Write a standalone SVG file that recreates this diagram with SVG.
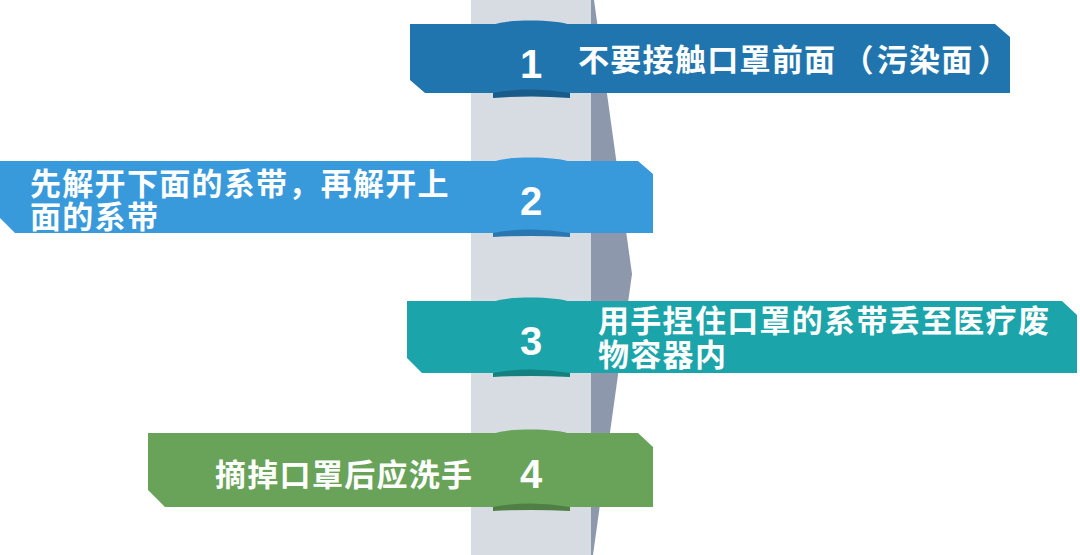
<svg xmlns="http://www.w3.org/2000/svg" width="1080" height="555" viewBox="0 0 1080 555">
<style>
.txt{font-family:"Noto Sans CJK SC","Noto Sans",sans-serif;font-weight:bold;font-size:31px;fill:#ffffff;letter-spacing:1.3px}
.num{font-family:"Liberation Sans",Arial,sans-serif;font-weight:bold;font-size:40px;fill:#ffffff;text-anchor:middle}
</style>
<rect width="1080" height="555" fill="#ffffff"/>
<g id="pillar">
<rect x="471" y="0" width="120" height="555" fill="#d7dce3"/>
<polygon points="591,0 594,0 632,274 593,555 591,555" fill="#8e98ad"/>
</g>
<g id="connectors"></g>
<g id="step-1">
<path d="M493,25 C503,19 558,19 570,25 Z" fill="#2175ae"/>
<path d="M410,24 H995 L1010,37 V93 H425 L410,80 Z" fill="#2175ae"/>
<path d="M493,98 L493,93 Q531,86 570,93 L570,98 Q531,95 493,98 Z" fill="#195b8a"/>
<text class="num" x="531" y="78">1</text>
<text class="txt" x="578" y="71">不要接触口罩前面<tspan dx="6">（</tspan><tspan dx="2">污染面</tspan><tspan dx="4">）</tspan></text>
</g>
<g id="step-2">
<path d="M493,162 C503,156 558,156 570,162 Z" fill="#3899db"/>
<path d="M0,161 H638 L653,174 V233 H15 L0,218 Z" fill="#3899db"/>
<path d="M493,237 L493,233 Q531,226 570,233 L570,237 Q531,235 493,237 Z" fill="#2a76b0"/>
<text class="num" x="531" y="215">2</text>
<text class="txt" x="30" y="195">先解开下面的系带，再解开上<tspan x="30" y="228">面的系带</tspan></text>
</g>
<g id="step-3">
<path d="M493,302 C503,296 558,296 570,302 Z" fill="#1ba4a9"/>
<path d="M407,301 H1062 L1077,315 V373 H422 L407,358 Z" fill="#1ba4a9"/>
<path d="M493,377 L493,373 Q531,366 570,373 L570,377 Q531,375 493,377 Z" fill="#14807f"/>
<text class="num" x="531" y="355">3</text>
<text class="txt" x="598" y="332">用手捏住口罩的系带丢至医疗废<tspan x="598" y="366">物容器内</tspan></text>
</g>
<g id="step-4">
<path d="M493,434 C503,428 558,428 570,434 Z" fill="#69a35a"/>
<path d="M148,433 H638 L653,447 V507 H165 L148,490 Z" fill="#69a35a"/>
<path d="M493,511 L493,507 Q531,500 570,507 L570,511 Q531,509 493,511 Z" fill="#4f7f44"/>
<text class="num" x="531" y="488">4</text>
<text class="txt" x="215" y="486">摘掉口罩后应洗手</text>
</g>
</svg>
